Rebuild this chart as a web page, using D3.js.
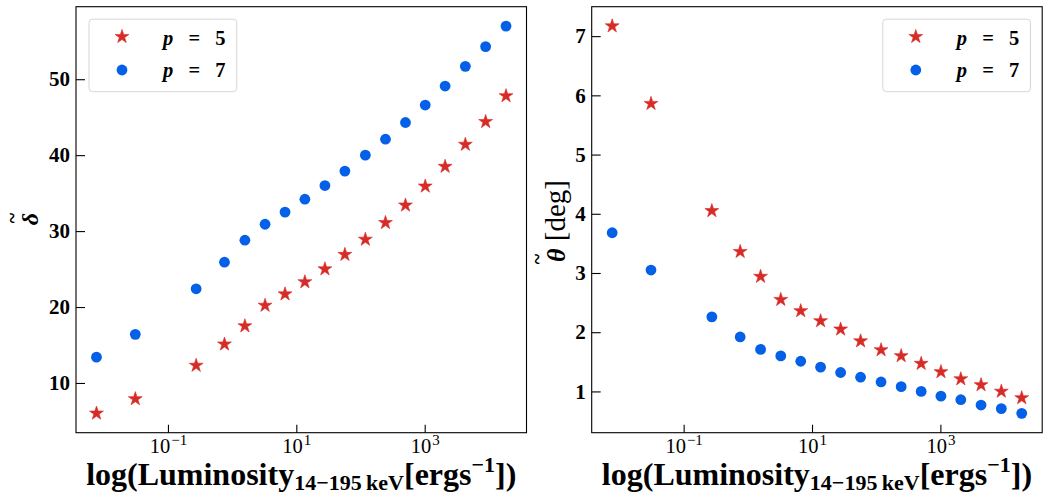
<!DOCTYPE html>
<html>
<head>
<meta charset="utf-8">
<script src="https://cdn.jsdelivr.net/npm/d3@7"></script>
<style>
  body { margin: 0; background: #fff; }
  text { font-family: "Liberation Serif", "DejaVu Serif", serif; }
</style>
</head>
<body>
<div id="chart"></div>
<script>
// luminosity (14-195 keV), shared by both panels
const luminosity = [0.0077, 0.031, 0.275, 0.76, 1.58, 3.26, 6.67, 13.6, 27.9, 57.1, 119, 245, 502, 1020, 2080, 4300, 8900, 18500];

// left panel: delta
const deltaP5 = [6.0, 7.9, 12.3, 15.1, 17.5, 20.2, 21.7, 23.3, 25.0, 26.9, 28.9, 31.1, 33.4, 35.9, 38.5, 41.4, 44.4, 47.8];
const deltaP7 = [13.4, 16.4, 22.4, 25.9, 28.8, 30.9, 32.5, 34.2, 36.0, 37.9, 40.0, 42.1, 44.3, 46.6, 49.1, 51.7, 54.3, 57.0];

// right panel: theta [deg]
const thetaP5 = [7.17, 5.86, 4.05, 3.36, 2.94, 2.55, 2.36, 2.19, 2.05, 1.85, 1.70, 1.60, 1.47, 1.33, 1.21, 1.11, 1.00, 0.89];
const thetaP7 = [3.68, 3.05, 2.26, 1.92, 1.71, 1.60, 1.51, 1.41, 1.32, 1.24, 1.16, 1.08, 1.00, 0.92, 0.86, 0.77, 0.71, 0.63];

const xTicks = [0.1, 10, 1000];
const xTickExp = ["−1", "1", "3"];
const deltaTicks = [10, 20, 30, 40, 50];
const thetaTicks = [1, 2, 3, 4, 5, 6, 7];
const seriesNames = ["5", "7"];

const red = "#d62b27";
const blue = "#0460e6";

const width = 1043;
const height = 495;
const plotTop = 6.7, plotH = 426, plotW = 450.5;

const svg = d3.select("#chart")
    .append("svg")
    .attr("width", width)
    .attr("height", height);

// 5% padding like matplotlib autoscale
function padLinear(vals) {
    const lo = d3.min(vals), hi = d3.max(vals);
    const m = (hi - lo) * 0.05;
    return [lo - m, hi + m];
}
function padLog(vals) {
    const lo = Math.log10(d3.min(vals)), hi = Math.log10(d3.max(vals));
    const m = (hi - lo) * 0.05;
    return [Math.pow(10, lo - m), Math.pow(10, hi + m)];
}

function drawPanel(left, s5, s7, yTicks, legendRight) {
    const g = svg.append("g");

    const x = d3.scaleLog()
        .domain(padLog(luminosity))
        .range([left, left + plotW]);

    const y = d3.scaleLinear()
        .domain(padLinear(s5.concat(s7)))
        .range([plotTop + plotH, plotTop]);

    // y axis, inward ticks
    const yAxis = g.append("g")
        .attr("transform", `translate(${left},0)`)
        .call(d3.axisLeft(y).tickValues(yTicks).tickSize(-9).tickPadding(6).tickFormat(d3.format("d")));
    yAxis.select(".domain").remove();
    yAxis.selectAll("line").attr("stroke", "#000").attr("stroke-width", 1.1);
    yAxis.selectAll("text")
        .attr("font-family", "Liberation Serif")
        .attr("font-weight", "bold")
        .attr("font-size", 21)
        .attr("fill", "#000");

    // x axis, log ticks with superscripts
    const xAxis = g.append("g")
        .attr("transform", `translate(0,${plotTop + plotH})`)
        .call(d3.axisBottom(x).tickValues(xTicks).tickSize(-8).tickPadding(6).tickFormat(""));
    xAxis.select(".domain").remove();
    xAxis.selectAll("line").attr("stroke", "#000").attr("stroke-width", 1.1);
    xAxis.selectAll(".tick text").remove();
    xAxis.selectAll(".tick")
        .append("text")
        .attr("y", 20.6)
        .attr("text-anchor", "middle")
        .attr("fill", "#000")
        .attr("font-family", "Liberation Serif")
        .attr("font-size", 20.5)
        .each(function (d, i) {
            const t = d3.select(this);
            t.append("tspan").text("10");
            t.append("tspan").attr("dy", -8.5).attr("dx", 1).attr("font-size", 15).text(xTickExp[i]);
        });

    // frame
    g.append("rect")
        .attr("x", left)
        .attr("y", plotTop)
        .attr("width", plotW)
        .attr("height", plotH)
        .attr("fill", "none")
        .attr("stroke", "#000")
        .attr("stroke-width", 1.1);

    const star = d3.symbol(d3.symbolStar, 60);

    g.append("g")
        .attr("fill", red)
        .attr("stroke", red)
        .attr("stroke-width", 0.6)
        .attr("stroke-linejoin", "round")
        .selectAll("path")
        .data(s5)
        .join("path")
        .attr("d", star)
        .attr("transform", (d, i) => `translate(${x(luminosity[i])},${y(d)})`);

    g.append("g")
        .attr("fill", blue)
        .selectAll("circle")
        .data(s7)
        .join("circle")
        .attr("cx", (d, i) => x(luminosity[i]))
        .attr("cy", d => y(d))
        .attr("r", 5.4);

    // x label
    const xl = g.append("text")
        .attr("x", left + plotW / 2)
        .attr("y", 485)
        .attr("text-anchor", "middle")
        .attr("font-weight", "bold")
        .attr("font-size", 32)
        .attr("fill", "#000");
    xl.append("tspan").text("log(Luminosity");
    xl.append("tspan").attr("dy", 5).attr("font-size", 22).text("14−195\u2009keV");
    xl.append("tspan").attr("dy", -5).text("[ergs");
    xl.append("tspan").attr("dy", -13).attr("font-size", 22).text("−1");
    xl.append("tspan").attr("dy", 13).text("])");

    // legend
    const lw = 147.7, lh = 72.5;
    const lx = legendRight ? left + plotW - 11.7 - lw : left + 13;
    const ly = 19.2;
    const leg = g.append("g").attr("transform", `translate(${lx},${ly})`);
    leg.append("rect")
        .attr("width", lw)
        .attr("height", lh)
        .attr("rx", 3.5)
        .attr("fill", "#fff")
        .attr("fill-opacity", 0.8)
        .attr("stroke", "#d6d6d6")
        .attr("stroke-width", 1);
    leg.append("path")
        .attr("d", star)
        .attr("fill", red)
        .attr("stroke", red)
        .attr("stroke-width", 0.6)
        .attr("transform", "translate(33,17.5)");
    leg.append("circle")
        .attr("cx", 33)
        .attr("cy", 50.8)
        .attr("r", 5.4)
        .attr("fill", blue);
    seriesNames.forEach(function (n, i) {
        const t = leg.append("text")
            .attr("x", 74)
            .attr("y", 25.8 + i * 32.5)
            .attr("font-weight", "bold")
            .attr("font-size", 20.5)
            .attr("fill", "#000")
            .attr("word-spacing", 10);
        t.append("tspan").attr("font-style", "italic").text("p");
        t.append("tspan").text(" = " + n);
    });

    return g;
}

drawPanel(76, deltaP5, deltaP7, deltaTicks, false);
drawPanel(591.7, thetaP5, thetaP7, thetaTicks, true);

// y labels, rotated
svg.append("text")
    .attr("transform", "translate(38,219) rotate(-90)")
    .attr("text-anchor", "middle")
    .attr("font-weight", "bold")
    .attr("font-style", "italic")
    .attr("font-size", 24)
    .attr("fill", "#000")
    .text("δ");
svg.append("text")
    .attr("transform", "translate(12,218) rotate(-90)")
    .attr("text-anchor", "middle")
    .attr("dominant-baseline", "central")
    .attr("font-size", 20)
    .attr("font-weight", "bold")
    .attr("fill", "#000")
    .text("~");

const tl = svg.append("text")
    .attr("transform", "translate(565,221) rotate(-90)")
    .attr("text-anchor", "middle")
    .attr("font-size", 29)
    .attr("fill", "#000");
tl.append("tspan").attr("font-weight", "bold").attr("font-style", "italic").attr("font-size", 26).text("θ");
tl.append("tspan").text(" [deg]");
svg.append("text")
    .attr("transform", "translate(537,259) rotate(-90)")
    .attr("text-anchor", "middle")
    .attr("dominant-baseline", "central")
    .attr("font-size", 20)
    .attr("font-weight", "bold")
    .attr("fill", "#000")
    .text("~");
</script>
</body>
</html>
